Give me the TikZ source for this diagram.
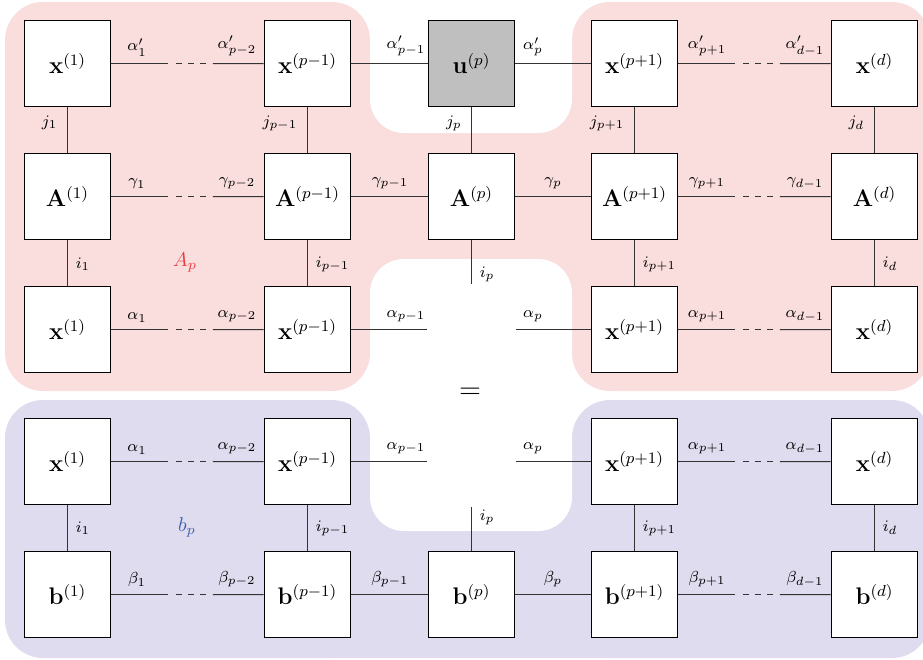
\documentclass[tikz,border=0pt]{standalone}
\usetikzlibrary{calc}
\definecolor{pinkbg}{RGB}{250,221,221}
\definecolor{bluebg}{RGB}{222,220,238}
\definecolor{boxgray}{RGB}{191,191,191}
\definecolor{labred}{RGB}{232,64,64}
\definecolor{labblue}{RGB}{64,96,176}
\newcommand\tnlink[2]{%
 \draw[conn] (#1.east) -- ($(#1.east)!0.3725!(#2.west)$);
 \draw[conn,dash pattern=on 2.75pt off 3.25pt] ($(#1.east)!0.425!(#2.west)$) -- ($(#1.east)!0.621!(#2.west)$);
 \draw[conn] ($(#1.east)!0.667!(#2.west)$) -- (#2.west);}
\begin{document}
\begin{tikzpicture}[x=0.5pt,y=-0.5pt,
 tbox/.style={draw=black,line width=0.8pt,fill=white,minimum size=43pt,inner sep=0pt,font=\large},
 conn/.style={draw=black!80,line width=0.5pt},
 hl/.style={font=\footnotesize,anchor=south,inner sep=0pt},
 vjl/.style={font=\footnotesize,anchor=east,inner sep=0pt},
 vil/.style={font=\footnotesize,anchor=west,inner sep=0pt},
]
\useasboundingbox (0,0) rectangle (923,660);
% backgrounds
\fill[pinkbg, rounded corners=19pt] (5,2) rectangle (370,391);
\fill[pinkbg, rounded corners=19pt] (572,2) rectangle (930,391);
\fill[pinkbg] (350,100) rectangle (592,300);
\fill[white, rounded corners=17pt] (370,-40) rectangle (572,133);
\fill[white, rounded corners=17pt] (370,259) rectangle (572,396);
\fill[bluebg, rounded corners=19pt] (5,400) rectangle (370,658);
\fill[bluebg, rounded corners=19pt] (572,400) rectangle (930,658);
\fill[bluebg] (320,450) rectangle (622,658);
\fill[white, rounded corners=17pt] (370,380) rectangle (572,531);
% nodes
\node[tbox] (x1) at (67.5,63.5) {$\mathbf{x}^{(1)}$};
\node[tbox] (xpm1) at (307.5,63.5) {$\mathbf{x}^{(p-1)}$};
\node[tbox,fill=boxgray] (u) at (471.5,63.5) {$\mathbf{u}^{(p)}$};
\node[tbox] (xpp1) at (634.5,63.5) {$\mathbf{x}^{(p+1)}$};
\node[tbox] (xd) at (874.5,63.5) {$\mathbf{x}^{(d)}$};
\node[tbox] (A1) at (67.5,196.5) {$\mathbf{A}^{(1)}$};
\node[tbox] (Apm1) at (307.5,196.5) {$\mathbf{A}^{(p-1)}$};
\node[tbox] (Ap) at (471.5,196.5) {$\mathbf{A}^{(p)}$};
\node[tbox] (App1) at (634.5,196.5) {$\mathbf{A}^{(p+1)}$};
\node[tbox] (Ad) at (874.5,196.5) {$\mathbf{A}^{(d)}$};
\node[tbox] (y1) at (67.5,329.5) {$\mathbf{x}^{(1)}$};
\node[tbox] (ypm1) at (307.5,329.5) {$\mathbf{x}^{(p-1)}$};
\node[tbox] (ypp1) at (634.5,329.5) {$\mathbf{x}^{(p+1)}$};
\node[tbox] (yd) at (874.5,329.5) {$\mathbf{x}^{(d)}$};
\node[tbox] (z1) at (67.5,461.5) {$\mathbf{x}^{(1)}$};
\node[tbox] (zpm1) at (307.5,461.5) {$\mathbf{x}^{(p-1)}$};
\node[tbox] (zpp1) at (634.5,461.5) {$\mathbf{x}^{(p+1)}$};
\node[tbox] (zd) at (874.5,461.5) {$\mathbf{x}^{(d)}$};
\node[tbox] (b1) at (67.5,594.5) {$\mathbf{b}^{(1)}$};
\node[tbox] (bpm1) at (307.5,594.5) {$\mathbf{b}^{(p-1)}$};
\node[tbox] (bp) at (471.5,594.5) {$\mathbf{b}^{(p)}$};
\node[tbox] (bpp1) at (634.5,594.5) {$\mathbf{b}^{(p+1)}$};
\node[tbox] (bd) at (874.5,594.5) {$\mathbf{b}^{(d)}$};
\coordinate (ipend) at (471.5,284);
\coordinate (r3l) at (427,329.5);
\coordinate (r3r) at (516,329.5);
\coordinate (r4l) at (427,461.5);
\coordinate (r4r) at (516,461.5);
\coordinate (ipstart) at (471.5,507);
% horizontal links
\tnlink{x1}{xpm1} \tnlink{xpp1}{xd}
\tnlink{A1}{Apm1} \tnlink{App1}{Ad}
\tnlink{y1}{ypm1} \tnlink{ypp1}{yd}
\tnlink{z1}{zpm1} \tnlink{zpp1}{zd}
\tnlink{b1}{bpm1} \tnlink{bpp1}{bd}
\draw[conn] (xpm1) -- (u);
\draw[conn] (u) -- (xpp1);
\draw[conn] (Apm1) -- (Ap);
\draw[conn] (Ap) -- (App1);
\draw[conn] (ypm1.east) -- (r3l);
\draw[conn] (r3r) -- (ypp1.west);
\draw[conn] (zpm1.east) -- (r4l);
\draw[conn] (r4r) -- (zpp1.west);
\draw[conn] (bpm1) -- (bp);
\draw[conn] (bp) -- (bpp1);
% vertical links
\draw[conn] (x1) -- (A1);
\draw[conn] (xpm1) -- (Apm1);
\draw[conn] (u) -- (Ap);
\draw[conn] (xpp1) -- (App1);
\draw[conn] (xd) -- (Ad);
\draw[conn] (A1) -- (y1);
\draw[conn] (Apm1) -- (ypm1);
\draw[conn] (Ap.south) -- (ipend);
\draw[conn] (App1) -- (ypp1);
\draw[conn] (Ad) -- (yd);
\draw[conn] (z1) -- (b1);
\draw[conn] (zpm1) -- (bpm1);
\draw[conn] (ipstart) -- (bp.north);
\draw[conn] (zpp1) -- (bpp1);
\draw[conn] (zd) -- (bd);
% row 1 labels
\node[hl] (la1) at (137,56.5) {$\alpha'_1$};
\node[hl] (la2) at (237,56.5) {$\alpha'_{p-2}$};
\node[hl] (la3) at (406,56.5) {$\alpha'_{p-1}$};
\node[hl] (la4) at (533,56.5) {$\alpha'_{p}$};
\node[hl] (la5) at (707,56.5) {$\alpha'_{p+1}$};
\node[hl] (la6) at (805,56.5) {$\alpha'_{d-1}$};
% row 2 labels
\node[hl] (lg1) at (137,189.5) {$\gamma_1$};
\node[hl] (lg2) at (237,189.5) {$\gamma_{p-2}$};
\node[hl] (lg3) at (390,189.5) {$\gamma_{p-1}$};
\node[hl] (lg4) at (553,189.5) {$\gamma_{p}$};
\node[hl] (lg5) at (707,189.5) {$\gamma_{p+1}$};
\node[hl] (lg6) at (805,189.5) {$\gamma_{d-1}$};
% row 3 labels
\node[hl] (lb1) at (137,322.5) {$\alpha_1$};
\node[hl] (lb2) at (237,322.5) {$\alpha_{p-2}$};
\node[hl] (lb3) at (406,322.5) {$\alpha_{p-1}$};
\node[hl] (lb4) at (533,322.5) {$\alpha_{p}$};
\node[hl] (lb5) at (707,322.5) {$\alpha_{p+1}$};
\node[hl] (lb6) at (805,322.5) {$\alpha_{d-1}$};
% row 4 labels
\node[hl] (lc1) at (137,454.5) {$\alpha_1$};
\node[hl] (lc2) at (237,454.5) {$\alpha_{p-2}$};
\node[hl] (lc3) at (406,454.5) {$\alpha_{p-1}$};
\node[hl] (lc4) at (533,454.5) {$\alpha_{p}$};
\node[hl] (lc5) at (707,454.5) {$\alpha_{p+1}$};
\node[hl] (lc6) at (805,454.5) {$\alpha_{d-1}$};
% row 5 labels
\node[hl] (ld1) at (137,587.5) {$\beta_1$};
\node[hl] (ld2) at (237,587.5) {$\beta_{p-2}$};
\node[hl] (ld3) at (390,587.5) {$\beta_{p-1}$};
\node[hl] (ld4) at (553,587.5) {$\beta_{p}$};
\node[hl] (ld5) at (707,587.5) {$\beta_{p+1}$};
\node[hl] (ld6) at (805,587.5) {$\beta_{d-1}$};
% vertical labels
\node[vjl] (vj1) at (57.5,123) {$j_1$};
\node[vjl] (vj2) at (297.5,123) {$j_{p-1}$};
\node[vjl] (vj3) at (462,123) {$j_{p}$};
\node[vjl] (vj4) at (624.5,123) {$j_{p+1}$};
\node[vjl] (vj5) at (864.5,123) {$j_{d}$};
\node[vil] (vi1) at (75.5,264) {$i_1$};
\node[vil] (vi2) at (315.5,264) {$i_{p-1}$};
\node[vil] (vi3) at (479.5,274) {$i_{p}$};
\node[vil] (vi4) at (642.5,264) {$i_{p+1}$};
\node[vil] (vi5) at (882.5,264) {$i_{d}$};
\node[vil] (vk1) at (75.5,528) {$i_1$};
\node[vil] (vk2) at (315.5,528) {$i_{p-1}$};
\node[vil] (vk3) at (479.5,517) {$i_{p}$};
\node[vil] (vk4) at (642.5,528) {$i_{p+1}$};
\node[vil] (vk5) at (882.5,528) {$i_{d}$};
% other labels
\node[text=labred] (Alab) at (185,263) {$A_p$};
\node[text=labblue] (blab) at (187,527) {$b_p$};
\node (eq) at (470,393) {\Large$=$};
\end{tikzpicture}
\end{document}
